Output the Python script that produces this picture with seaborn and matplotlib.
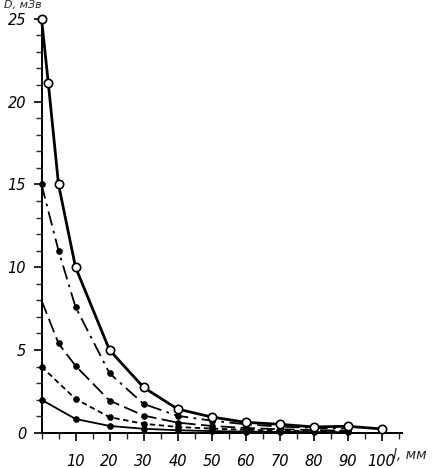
import matplotlib
matplotlib.use("Agg")
import matplotlib.pyplot as plt
import seaborn as sns
from matplotlib.ticker import MultipleLocator

# values (distance l in mm, dose D)
l_top = [0, 2, 5, 10, 20, 30, 40, 50, 60, 70, 80, 90, 100]
d_top = [25, 21.1, 15, 10, 5.0, 2.75, 1.44, 0.96, 0.64, 0.52, 0.36, 0.4, 0.24]

l_rest = [0, 5, 10, 20, 30, 40, 50, 60, 70, 80, 90]
d_dashdot = [15, 11.0, 7.6, 3.6, 1.75, 1.03, 0.74, 0.52, 0.38, 0.3, 0.26]
d_longdash = [8.0, 5.4, 4.05, 1.95, 1.05, 0.62, 0.42, 0.3, 0.22, 0.17, 0.13]

l_low = [0, 10, 20, 30, 40, 50, 60, 70, 80, 90]
d_shortdash = [4.0, 2.05, 0.95, 0.55, 0.36, 0.26, 0.19, 0.14, 0.11, 0.09]
d_solid = [2.0, 0.84, 0.42, 0.25, 0.16, 0.11, 0.08, 0.06, 0.05, 0.04]

sns.set_style("ticks")
plt.rcParams["font.family"] = ["DejaVu Sans"]
plt.rcParams["font.style"] = "italic"

fig = plt.figure(figsize=(4.37, 4.68), dpi=100)
ax = fig.add_axes([0.095, 0.075, 0.825, 0.885])

dots = dict(color="black", lw=1.3, marker="o", ms=4, mfc="black", mec="black", clip_on=False)
sns.lineplot(x=l_low, y=d_solid, ax=ax, **dots)
sns.lineplot(x=l_low, y=d_shortdash, ax=ax, linestyle=(0, (3, 2)), **dots)
sns.lineplot(x=l_rest, y=d_longdash, ax=ax, linestyle=(0, (8, 3)),
             markevery=list(range(1, len(l_rest))), **dots)
sns.lineplot(x=l_rest, y=d_dashdot, ax=ax, linestyle=(0, (8, 3, 1.5, 3)), **dots)
sns.lineplot(x=l_top, y=d_top, ax=ax, color="black", lw=2.0, marker="o", ms=6,
             mfc="white", mec="black", mew=1.2, zorder=5, clip_on=False)

ax.set_xlim(0, 106)
ax.set_ylim(0, 25)
ax.set_xticks(range(10, 101, 10))
ax.xaxis.set_minor_locator(MultipleLocator(5))
ax.yaxis.set_major_locator(MultipleLocator(5))
ax.yaxis.set_minor_locator(MultipleLocator(1))
ax.tick_params(axis="both", which="major", direction="out", length=6, width=1.2,
               labelsize=10.5, colors="black")
ax.tick_params(axis="both", which="minor", direction="out", length=4, width=1.0)
ax.tick_params(axis="x", pad=9)
ax.tick_params(axis="y", pad=5)
for s in ["top", "right"]:
    ax.spines[s].set_visible(False)
for s in ["left", "bottom"]:
    ax.spines[s].set_linewidth(1.4)
    ax.spines[s].set_color("black")
ax.set_xlabel("")
ax.set_ylabel("")

fig.text(0.9, 0.028, "l, мм", fontsize=10, va="center", ha="left")
fig.text(0.01, 1.0, "D, мЗв", fontsize=8, va="top", ha="left")

fig.savefig("out.png", dpi=100)
